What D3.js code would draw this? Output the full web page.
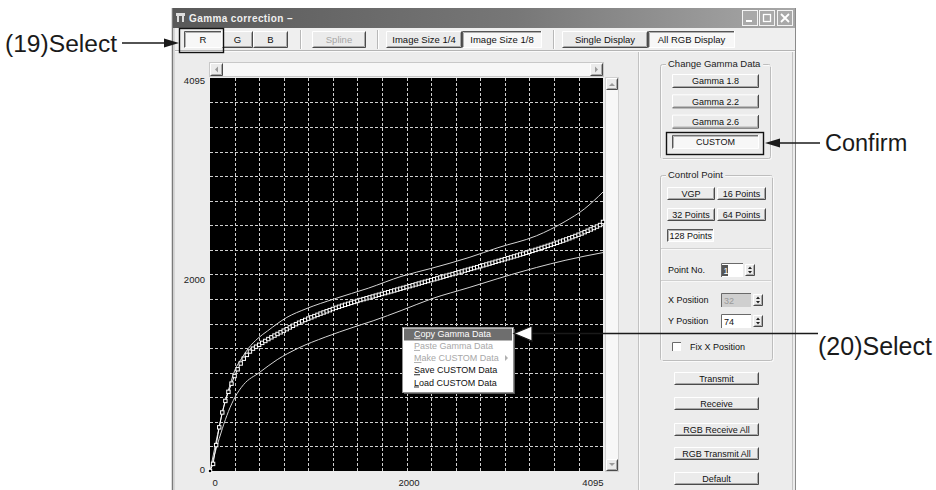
<!DOCTYPE html>
<html><head><meta charset="utf-8">
<script src="https://cdn.jsdelivr.net/npm/d3@7"></script>
<style>
body{margin:0;background:#fff}
svg{display:block}
text{font-family:"Liberation Sans",Arial,sans-serif}
</style>
</head><body>
<svg id="c" width="936" height="490"></svg>
<script>
// ---------- DATA ----------
// custom gamma curve, 128-point control data (y value at each control point)
const ctrlY = [0,74,270,455,610,730,825,910,990,1060,1120,1170,1210,1245,1275,1295,1315,1335,1355,1375,
1393,1411,1428,1445,1462,1478,1496,1513,1530,1545,1560,1574,1588,1601,1614,1627,1640,1652,1664,1676,
1688,1700,1711,1722,1732,1742,1752,1762,1772,1782,1791,1800,1809,1818,1827,1836,1845,1854,1863,1872,
1881,1890,1899,1908,1917,1926,1935,1944,1953,1962,1971,1980,1989,1998,2007,2016,2025,2034,2043,2052,
2061,2070,2079,2088,2097,2106,2115,2124,2134,2143,2152,2161,2170,2180,2189,2198,2207,2217,2226,2236,
2245,2255,2264,2274,2284,2294,2304,2314,2325,2335,2346,2356,2367,2378,2390,2401,2413,2425,2437,2449,
2462,2475,2489,2503,2517,2532,2547,2563,2595];
const ctrlStep = 32;
const maxVal = 4095;
// upper reference curve
const upperX = [0,52,104,156,208,260,330,400,500,600,800,1000,1300,1650,2000,2300,2700,3000,3400,3700,3900,4095];
const upperY = [0,253,500,722,896,1052,1174,1278,1383,1460,1600,1690,1795,1905,2030,2110,2225,2327,2450,2600,2730,2907];
// lower reference curve
const lowerX = [0,64,128,192,260,350,512,700,920,1200,1500,1700,2000,2311,2700,3000,3400,3700,4095];
const lowerY = [0,230,440,620,768,900,1024,1160,1280,1395,1500,1565,1675,1795,1912,2005,2120,2195,2276];
const gridVals = [256,512,768,1024,1280,1536,1792,2048,2304,2560,2816,3072,3328,3584,3840];
const yTicks = [0,2000,4095];
const xTicks = [0,2000,4095];
// UI texts
const titleText = "Gamma correction \u2013";
const colorButtons = ["R","G","B"];
const splineButton = "Spline";
const sizeButtons = ["Image Size 1/4","Image Size 1/8"];
const displayButtons = ["Single Display","All RGB Display"];
const gammaGroup = "Change Gamma Data";
const gammaButtons = ["Gamma 1.8","Gamma 2.2","Gamma 2.6","CUSTOM"];
const pointGroup = "Control Point";
const pointButtons = ["VGP","16 Points","32 Points","64 Points","128 Points"];
const fieldLabels = ["Point No.","X Position","Y Position"];
const fieldValues = ["1","32","74"];
const checkLabel = "Fix X Position";
const actionButtons = ["Transmit","Receive","RGB Receive All","RGB Transmit All","Default"];
const menuItems = ["Copy Gamma Data","Paste Gamma Data","Make CUSTOM Data","Save CUSTOM Data","Load CUSTOM Data"];
const menuEnabled = [true,false,false,true,true];
const annotations = ["(19)Select","Confirm","(20)Select"];

// ---------- DRAWING ----------
const svg = d3.select("#c");
svg.append("rect").attr("width",936).attr("height",490).attr("fill","#fff");

const defs = svg.append("defs");
const tg = defs.append("linearGradient").attr("id","tb").attr("x1","0").attr("x2","1").attr("y1","0").attr("y2","0");
tg.append("stop").attr("offset","0").attr("stop-color","#595959");
tg.append("stop").attr("offset","0.55").attr("stop-color","#777");
tg.append("stop").attr("offset","1").attr("stop-color","#a8a8a8");

// window body
svg.append("rect").attr("x",172).attr("y",8).attr("width",624).attr("height",490).attr("fill","#ececec");
svg.append("line").attr("x1",172.5).attr("x2",172.5).attr("y1",8).attr("y2",490).attr("stroke","#7a7a7a").attr("stroke-width",1.5);
svg.append("line").attr("x1",174.5).attr("x2",174.5).attr("y1",28).attr("y2",490).attr("stroke","#d6d6d6");
svg.append("line").attr("x1",795.5).attr("x2",795.5).attr("y1",8).attr("y2",490).attr("stroke","#8a8a8a");
svg.append("line").attr("x1",792.5).attr("x2",792.5).attr("y1",52).attr("y2",490).attr("stroke","#c4c4c4");

// title bar
svg.append("rect").attr("x",173).attr("y",8).attr("width",622).attr("height",20).attr("fill","url(#tb)");
const ic = svg.append("g");
ic.append("rect").attr("x",176).attr("y",13).attr("width",9).attr("height",3).attr("fill","#ddd");
ic.append("rect").attr("x",177).attr("y",16).attr("width",2).attr("height",6).attr("fill","#ddd");
ic.append("rect").attr("x",182).attr("y",16).attr("width",2).attr("height",6).attr("fill","#ddd");
svg.append("text").attr("x",189).attr("y",22).attr("font-size",10).attr("font-weight","bold")
  .attr("letter-spacing",0.4).attr("fill","#f0f0f0").text(titleText);
// window control buttons
[742,759,777].forEach((bx,i)=>{
  svg.append("rect").attr("x",bx+0.5).attr("y",10.5).attr("width",15).attr("height",15)
    .attr("fill","#a9a9a9").attr("stroke","#f4f4f4").attr("stroke-width",1);
  if(i===0) svg.append("rect").attr("x",bx+4).attr("y",20).attr("width",6).attr("height",2).attr("fill","#fff");
  if(i===1) svg.append("rect").attr("x",bx+4.5).attr("y",14.5).attr("width",7).attr("height",7).attr("fill","none").attr("stroke","#fff").attr("stroke-width",1.3);
  if(i===2) svg.append("path").attr("d",`M${bx+4},14 L${bx+12},22 M${bx+12},14 L${bx+4},22`).attr("stroke","#fff").attr("stroke-width",1.8);
});

// toolbar
svg.append("rect").attr("x",175).attr("y",28).attr("width",620).attr("height",22).attr("fill","#efefef");
svg.append("line").attr("x1",175).attr("x2",795).attr("y1",50.5).attr("y2",50.5).attr("stroke","#b4b4b4");
svg.append("line").attr("x1",175).attr("x2",795).attr("y1",51.5).attr("y2",51.5).attr("stroke","#fafafa");
[300,377,553].forEach(sx=>{
  svg.append("line").attr("x1",sx+0.5).attr("x2",sx+0.5).attr("y1",30).attr("y2",49).attr("stroke","#b8b8b8");
  svg.append("line").attr("x1",sx+1.5).attr("x2",sx+1.5).attr("y1",30).attr("y2",49).attr("stroke","#fff");
});

function button(x,y,w,h,label,o={}){
  const g = svg.append("g");
  g.append("rect").attr("x",x).attr("y",y).attr("width",w).attr("height",h).attr("fill",o.pressed?"#f7f7f7":"#ebebeb");
  if(o.pressed){
    g.append("path").attr("d",`M${x+0.5},${y+h} V${y+0.5} H${x+w}`).attr("fill","none").attr("stroke","#555");
    g.append("path").attr("d",`M${x+1.5},${y+h-1} V${y+1.5} H${x+w-1}`).attr("fill","none").attr("stroke","#b0b0b0");
    g.append("path").attr("d",`M${x+0.5},${y+h-0.5} H${x+w-0.5} V${y}`).attr("fill","none").attr("stroke","#fff");
  } else {
    g.append("path").attr("d",`M${x+0.5},${y+h-0.5} V${y+0.5} H${x+w-0.5}`).attr("fill","none").attr("stroke","#fff");
    g.append("path").attr("d",`M${x+0.5},${y+h-0.5} H${x+w-0.5} V${y+0.5}`).attr("fill","none").attr("stroke","#4a4a4a");
    g.append("path").attr("d",`M${x+1.5},${y+h-1.5} H${x+w-1.5} V${y+1.5}`).attr("fill","none").attr("stroke","#a8a8a8");
  }
  if(label!==undefined){
    g.append("text").attr("x",x+w/2+(o.dx||0)).attr("y",y+h/2).attr("dy","0.36em")
      .attr("text-anchor",o.anchor||"middle").attr("font-size",o.fs||9)
      .attr("fill",o.disabled?"#a6a6a6":"#111").text(label);
  }
  return g;
}

// toolbar buttons
const tbY = 31, tbH = 17;
button(184,tbY,38,tbH,colorButtons[0],{pressed:true,fs:9.5});
button(222,tbY,31,tbH,colorButtons[1],{fs:9.5});
button(253,tbY,35,tbH,colorButtons[2],{fs:9.5});
button(312,tbY,54,tbH,splineButton,{disabled:true,fs:9.5});
button(386,tbY,76,tbH,sizeButtons[0],{fs:9.5});
button(462,tbY,80,tbH,sizeButtons[1],{pressed:true,fs:9.5});
button(562,tbY,86,tbH,displayButtons[0],{fs:9.5});
button(648,tbY,87,tbH,displayButtons[1],{pressed:true,fs:9.5});
// annotation box around R
svg.append("rect").attr("x",179.5).attr("y",28.5).attr("width",44).attr("height",24)
  .attr("fill","none").attr("stroke","#111").attr("stroke-width",1.4);

// separator between plot region and panel
svg.append("line").attr("x1",638.5).attr("x2",638.5).attr("y1",52).attr("y2",490).attr("stroke","#c2c2c2");
svg.append("line").attr("x1",639.5).attr("x2",639.5).attr("y1",52).attr("y2",490).attr("stroke","#fafafa");

// ---------- CHART ----------
const x = d3.scaleLinear().domain([0,maxVal]).range([210,603]);
const y = d3.scaleLinear().domain([0,maxVal]).range([471,78]);

// horizontal scrollbar
svg.append("rect").attr("x",209.5).attr("y",62.5).attr("width",394).attr("height",14).attr("fill","#f7f7f7").attr("stroke","#c8c8c8");
button(210,63,13,13);
svg.append("path").attr("d","M218,66.5 L215,69.5 L218,72.5 Z").attr("fill","#9a9a9a");
button(590,63,13,13);
svg.append("path").attr("d","M595,66.5 L598,69.5 L595,72.5 Z").attr("fill","#9a9a9a");
// vertical scrollbar
svg.append("rect").attr("x",605.5).attr("y",77.5).attr("width",13).attr("height",394).attr("fill","#f7f7f7").attr("stroke","#d0d0d0");
button(606,78,12,12);
svg.append("path").attr("d","M609,86 L612,83 L615,86 Z").attr("fill","#9a9a9a");
button(606,459,12,12);
svg.append("path").attr("d","M609,463 L612,466 L615,463 Z").attr("fill","#9a9a9a");

// plot background
svg.append("rect").attr("x",x(0)).attr("y",y(maxVal)).attr("width",x(maxVal)-x(0)).attr("height",y(0)-y(maxVal)).attr("fill","#000");

// grid
const grid = svg.append("g").attr("stroke","#cfcfcf").attr("stroke-width",1).attr("stroke-dasharray","3,2");
grid.selectAll(".gv").data(gridVals).join("line")
  .attr("x1",d=>Math.round(x(d))+0.5).attr("x2",d=>Math.round(x(d))+0.5).attr("y1",y(maxVal)).attr("y2",y(0));
grid.selectAll(".gh").data(gridVals).join("line")
  .attr("y1",d=>Math.round(y(d))+0.5).attr("y2",d=>Math.round(y(d))+0.5).attr("x1",x(0)).attr("x2",x(maxVal));

// reference curves
const thin = d3.line().x(d=>x(d[0])).y(d=>y(d[1])).curve(d3.curveMonotoneX);
svg.append("path").attr("d",thin(upperX.map((v,i)=>[v,upperY[i]]))).attr("fill","none").attr("stroke","#d4d4d4").attr("stroke-width",1);
svg.append("path").attr("d",thin(lowerX.map((v,i)=>[v,lowerY[i]]))).attr("fill","none").attr("stroke","#d4d4d4").attr("stroke-width",1);

// custom curve with control points
const ctrl = ctrlY.map((v,i)=>[Math.min(i*ctrlStep,maxVal),v]);
svg.append("path").attr("d",d3.line().x(d=>x(d[0])).y(d=>y(d[1]))(ctrl)).attr("fill","none").attr("stroke","#fff").attr("stroke-width",1);
svg.append("g").selectAll("rect").data(ctrl).join("rect")
  .attr("x",d=>x(d[0])-1.7).attr("y",d=>y(d[1])-1.7).attr("width",3.4).attr("height",3.4)
  .attr("fill","#000").attr("stroke","#fff").attr("stroke-width",1);

// axes
const yAx = svg.append("g").attr("transform",`translate(${x(0)},0)`)
  .call(d3.axisLeft(y).tickValues(yTicks).tickSize(0).tickPadding(5).tickFormat(d3.format("d")));
yAx.select(".domain").remove();
yAx.selectAll("text").attr("font-size",9.5).attr("fill","#222").attr("font-family","Liberation Sans, Arial, sans-serif")
  .attr("dy",d=>d===maxVal?"0.55em":(d===0?"0.2em":"0.4em"));
const xAx = svg.append("g").attr("transform",`translate(0,${y(0)})`)
  .call(d3.axisBottom(x).tickValues(xTicks).tickSize(0).tickPadding(8).tickFormat(d3.format("d")));
xAx.select(".domain").remove();
xAx.selectAll("text").attr("font-size",9.5).attr("fill","#222").attr("font-family","Liberation Sans, Arial, sans-serif")
  .attr("text-anchor",d=>d===0?"start":(d===maxVal?"end":"start"))
  .attr("dx",d=>d===0?"2":(d===maxVal?"0":"-4"));

// context menu
const mx=402, my=327, mw=111, mh=65;
svg.append("rect").attr("x",mx+2).attr("y",my+2).attr("width",mw).attr("height",mh).attr("fill","#555");
svg.append("rect").attr("x",mx+0.5).attr("y",my+0.5).attr("width",mw).attr("height",mh).attr("fill","#fff").attr("stroke","#909090");
svg.append("rect").attr("x",mx+2).attr("y",my+1.5).attr("width",mw-3).attr("height",12).attr("fill","#6e6e6e");
menuItems.forEach((t,i)=>{
  const tx = svg.append("text").attr("x",414).attr("y",my+6.5+i*12.2).attr("dy","0.36em").attr("font-size",9)
    .attr("fill", i===0 ? "#fff" : (menuEnabled[i] ? "#111" : "#a8a8a8"));
  tx.append("tspan").attr("text-decoration","underline").text(t[0]);
  tx.append("tspan").text(t.slice(1));
});
svg.append("path").attr("d",`M505,${my+6.5+2*12.2-3} L508,${my+6.5+2*12.2} L505,${my+6.5+2*12.2+3} Z`).attr("fill","#b0b0b0");

// ---------- RIGHT PANEL ----------
function groupBox(x0,y0,w,h,label){
  svg.append("rect").attr("x",x0+0.5).attr("y",y0+0.5).attr("width",w).attr("height",h).attr("rx",2)
    .attr("fill","none").attr("stroke","#bdbdbd");
  svg.append("rect").attr("x",x0+1.5).attr("y",y0+1.5).attr("width",w).attr("height",h).attr("rx",2)
    .attr("fill","none").attr("stroke","#fafafa");
  const lg = svg.append("g");
  const bgr = lg.append("rect").attr("fill","#ececec");
  const t = lg.append("text").attr("x",x0+8).attr("y",y0).attr("dy","0.36em").attr("font-size",9.5).attr("fill","#222").text(label);
  const bb = t.node().getBBox();
  bgr.attr("x",bb.x-2).attr("y",bb.y).attr("width",bb.width+4).attr("height",bb.height);
}
groupBox(660,64,110,94,gammaGroup);
gammaButtons.forEach((t,i)=>{
  button(672, 74+i*20.3, 87, 14, t, {pressed:i===3});
});
// Confirm box
svg.append("rect").attr("x",666.5).attr("y",132.5).attr("width",97).attr("height",22).attr("fill","none").attr("stroke","#111").attr("stroke-width",1.4);

groupBox(660,175,112,185,pointGroup);
button(667,187,48,13,pointButtons[0]);
button(717,187,49,13,pointButtons[1]);
button(667,208,48,13,pointButtons[2]);
button(717,208,49,13,pointButtons[3]);
button(667,229,47,13,pointButtons[4],{pressed:true,anchor:"start",dx:-21});
[248,280].forEach(ly=>{
  svg.append("line").attr("x1",661).attr("x2",771).attr("y1",ly+0.5).attr("y2",ly+0.5).attr("stroke","#cfcfcf");
  svg.append("line").attr("x1",661).attr("x2",771).attr("y1",ly+1.5).attr("y2",ly+1.5).attr("stroke","#f8f8f8");
});
function spin(sx,sy){
  button(sx,sy,10,12);
  svg.append("path").attr("d",`M${sx+3},${sy+5} L${sx+5},${sy+2.5} L${sx+7},${sy+5} Z M${sx+3},${sy+7} L${sx+5},${sy+9.5} L${sx+7},${sy+7} Z`).attr("fill","#222");
}
function field(fx,fy,w,fill){
  svg.append("rect").attr("x",fx).attr("y",fy).attr("width",w).attr("height",14).attr("fill",fill);
  svg.append("path").attr("d",`M${fx+0.5},${fy+14} V${fy+0.5} H${fx+w}`).attr("fill","none").attr("stroke","#6a6a6a");
}
// Point No.
svg.append("text").attr("x",668).attr("y",270).attr("dy","0.36em").attr("font-size",9).attr("fill","#111").text(fieldLabels[0]);
field(721,263,22,"#fff");
svg.append("rect").attr("x",722).attr("y",265).attr("width",6).attr("height",11).attr("fill","#555");
svg.append("text").attr("x",723.5).attr("y",270.5).attr("dy","0.36em").attr("font-size",9).attr("fill","#fff").text(fieldValues[0]);
spin(745,264);
// X Position
svg.append("text").attr("x",668).attr("y",300).attr("dy","0.36em").attr("font-size",9).attr("fill","#111").text(fieldLabels[1]);
field(721,293,30,"#cfcfcf");
svg.append("text").attr("x",724).attr("y",300.5).attr("dy","0.36em").attr("font-size",9).attr("fill","#9a9a9a").text(fieldValues[1]);
spin(753,294);
// Y Position
svg.append("text").attr("x",668).attr("y",321).attr("dy","0.36em").attr("font-size",9).attr("fill","#111").text(fieldLabels[2]);
field(721,314,30,"#fff");
svg.append("text").attr("x",724).attr("y",321.5).attr("dy","0.36em").attr("font-size",9).attr("fill","#111").text(fieldValues[2]);
spin(753,315);
// checkbox
svg.append("rect").attr("x",672).attr("y",342).attr("width",9).attr("height",9).attr("fill","#fff");
svg.append("path").attr("d","M672.5,351 V342.5 H681").attr("fill","none").attr("stroke","#6a6a6a");
svg.append("text").attr("x",690).attr("y",346.5).attr("dy","0.36em").attr("font-size",9).attr("fill","#111").text(checkLabel);

// action buttons
[372,397,423,447,472].forEach((by,i)=>button(674,by,85,13,actionButtons[i]));

// ---------- ANNOTATIONS ----------
const ann = svg.append("g").attr("fill","#1a1a1a");
ann.append("text").attr("x",5).attr("y",43).attr("dy","0.36em").attr("font-size",24.6).text(annotations[0]);
ann.append("line").attr("x1",122).attr("x2",166).attr("y1",43).attr("y2",43).attr("stroke","#1a1a1a").attr("stroke-width",1.4);
ann.append("path").attr("d","M164,38.5 L179,43 L164,47.5 Z");
ann.append("text").attr("x",825).attr("y",143).attr("dy","0.36em").attr("font-size",23.5).text(annotations[1]);
ann.append("line").attr("x1",778).attr("x2",820).attr("y1",143).attr("y2",143).attr("stroke","#1a1a1a").attr("stroke-width",1.4);
ann.append("path").attr("d","M780,138.5 L765,143 L780,147.5 Z");
ann.append("text").attr("x",818).attr("y",346).attr("dy","0.36em").attr("font-size",25).text(annotations[2]);
ann.append("line").attr("x1",531).attr("x2",818).attr("y1",333.5).attr("y2",333.5).attr("stroke","#1a1a1a").attr("stroke-width",1.3);
ann.append("path").attr("d","M532,326 L514,333.5 L532,341 Z").attr("fill","#fff").attr("stroke","#1a1a1a").attr("stroke-width",1.2);
</script>
</body></html>
